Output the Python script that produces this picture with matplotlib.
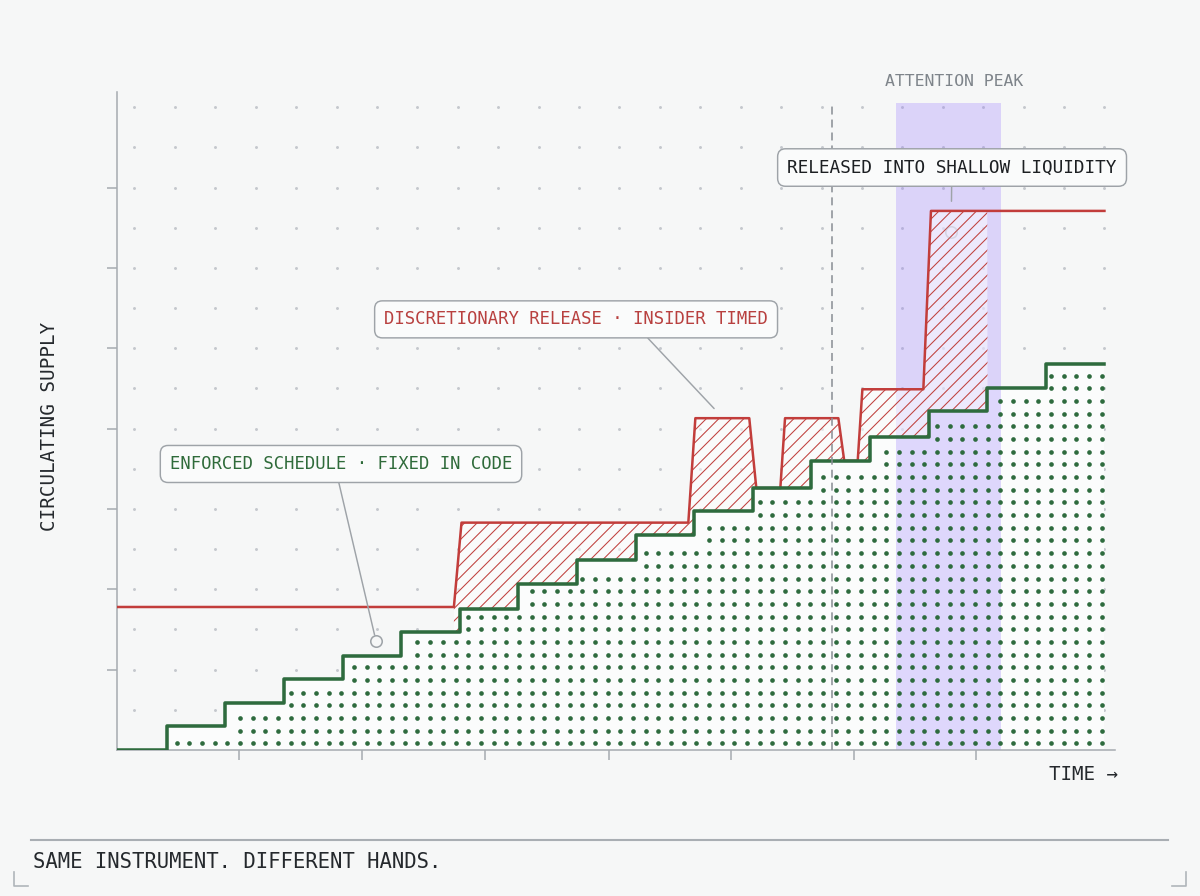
import numpy as np
import matplotlib.pyplot as plt
from matplotlib.lines import Line2D

plt.rcParams['font.family'] = ['DejaVu Sans Mono', 'DejaVu Sans']
plt.rcParams['hatch.linewidth'] = 0.5

# enforced schedule: one unlock per period (step, held until next period)
green_t = np.arange(0, 18)
green_v = [0, 3.0, 5.8, 8.8, 11.7, 14.7, 17.6, 20.6, 23.6, 26.7, 29.7,
           32.6, 36.0, 39.0, 42.2, 45.0, 48.0, 48.0]

# discretionary supply, released by hand
red_t = [0, 5.90, 6.03, 9.90, 10.02, 10.94, 11.06, 11.47, 11.55, 12.46,
         12.56, 12.79, 12.87, 13.91, 14.04, 17.0]
red_v = [17.8, 17.8, 28.3, 28.3, 41.3, 41.3, 32.6, 32.6, 41.3, 41.3,
         36.0, 36.0, 44.9, 44.9, 67.1, 67.1]

discretionary_span = (5.90, 15.0)
attention_span = (13.45, 15.24)
reveal_t = 12.35

x_ticks = [2.24, 4.34, 6.43, 8.55, 10.63, 12.73, 14.81]
y_ticks = [10, 20, 30, 40, 50, 60, 70]

BG = '#f6f7f7'
RED = '#c23d3b'
GREEN = '#2e6b3e'
GRAY = '#a7acb1'
INK = '#25292d'


def green_at(x):
    """Level of the enforced schedule at time x (step, post)."""
    idx = np.searchsorted(green_t, x, side='right') - 1
    return np.asarray(green_v)[np.clip(idx, 0, len(green_v) - 1)]


fig = plt.figure(figsize=(8, 896 / 150), dpi=150, facecolor=BG)
ax = fig.add_axes([117 / 1200, 1 - 750 / 896, 998 / 1200, 658 / 896])
ax.set_facecolor(BG)
ax.set_xlim(0.152, 17.18)
ax.set_ylim(0, 81.9)

# background dot grid
bx, by = np.meshgrid(np.linspace(0.45, 17.0, 25), np.arange(5, 81, 5))
ax.scatter(bx.ravel(), by.ravel(), s=2.0, color='#c4c8cd', linewidths=0, zorder=1)

# enforced area: opaque light face plus dot texture
ax.fill_between(green_t, 0, green_v, step='post', facecolor='#fbfcfc',
                linewidth=0, zorder=1.5)
dx, dy = 12.67 / 58.6, 12.67 / 8.03
gx, gy = np.meshgrid(np.arange(1.171 - 5 * dx, 17.0, dx), np.arange(0.834, 50, dy))
gx, gy = gx.ravel(), gy.ravel()
keep = ((gy < np.minimum(green_at(gx - 0.07), green_at(gx)) - 0.7)
        & (gx < 16.99) & (gx > 0.16))
ax.scatter(gx[keep], gy[keep], s=5.0, color=GREEN, linewidths=0, zorder=3)

# attention window
ax.fill_between(attention_span, 0, 80.5, color='#9678ff', alpha=0.28,
                linewidth=0, zorder=2)

# discretionary excess, hatched
tt = np.union1d(np.linspace(0, 17, 3401), np.array(red_t))
tt = np.union1d(tt, green_t[1:] - 1e-6)
r_i = np.interp(tt, red_t, red_v)
g_i = green_at(tt)
mask = ((tt >= discretionary_span[0]) & (tt <= discretionary_span[1])
        & (r_i > g_i + 0.05))
ax.fill_between(tt, g_i, r_i, where=mask, interpolate=True,
                facecolor=(1, 1, 1, 0.5), edgecolor='#c0413e',
                linewidth=0, hatch='////', zorder=2.5)

ax.plot(red_t, red_v, color=RED, lw=1.2, zorder=4)
ax.step(green_t, green_v, where='post', color=GREEN, lw=1.7, zorder=4.5)

ax.plot([reveal_t, reveal_t], [0, 80.5], color='#8a8f95', lw=0.75,
        dashes=(5.1, 3.2), zorder=5)

for s in ['top', 'right']:
    ax.spines[s].set_visible(False)
for s in ['left', 'bottom']:
    ax.spines[s].set_color(GRAY)
    ax.spines[s].set_linewidth(0.75)
ax.set_xticks(x_ticks)
ax.set_yticks(y_ticks)
ax.tick_params(length=4.8, width=0.75, color=GRAY,
               labelbottom=False, labelleft=False)

box = dict(boxstyle='round,pad=0.55,rounding_size=0.45', fc='#fafbfb',
           ec='#9ea3a8', lw=0.7)

ax.annotate('ENFORCED SCHEDULE · FIXED IN CODE', xy=(4.57, 13.6),
            xytext=(3.974, 35.6), ha='center', va='center', fontsize=8.3,
            color='#2f6b3a', bbox=box, zorder=6,
            arrowprops=dict(arrowstyle='-', color='#9ea3a8', lw=0.7,
                            shrinkA=0, shrinkB=2.8, relpos=(0.487, 0)))
ax.plot(4.57, 13.6, 'o', ms=5.5, mfc='none', mec='#9ea3a8', mew=0.75, zorder=6)

ax.annotate('DISCRETIONARY RELEASE · INSIDER TIMED', xy=(10.34, 42.5),
            xytext=(7.985, 53.6), ha='center', va='center', fontsize=8.3,
            color='#b8403f', bbox=box, zorder=6,
            arrowprops=dict(arrowstyle='-', color='#9ea3a8', lw=0.7,
                            shrinkA=0, shrinkB=0, relpos=(0.663, 0)))

ax.annotate('RELEASED INTO SHALLOW LIQUIDITY', xy=(14.39, 68.3),
            xytext=(14.40, 72.5), ha='center', va='center', fontsize=8.5,
            color='#1c1f22', bbox=box, zorder=6,
            arrowprops=dict(arrowstyle='-', color='#9ea3a8', lw=0.7,
                            shrinkA=0, shrinkB=0, relpos=(0.499, 0)))
ax.plot(14.39, 64.5, 'o', ms=5.5, mfc='none', mec='#9ea3a8', mew=0.75,
        alpha=0.3, zorder=6)

ax.text(14.43, 83.2, 'ATTENTION PEAK', ha='center', va='center',
        fontsize=7.9, color='#7e848a')

fig.text(49.5 / 1200, 1 - 426 / 896, 'CIRCULATING SUPPLY', rotation=90,
         ha='center', va='center', fontsize=9.25, color=INK)
fig.text(1118 / 1200, 1 - 775 / 896, 'TIME →', ha='right', va='center',
         fontsize=9.2, color=INK)

fig.add_artist(Line2D([31 / 1200, 1168 / 1200], [1 - 840 / 896] * 2,
                      color='#a9aeb3', lw=1.0))
fig.text(33 / 1200, 1 - 862 / 896, 'SAME INSTRUMENT. DIFFERENT HANDS.',
         ha='left', va='center', fontsize=9.9, color=INK)

# corner marks
fig.add_artist(Line2D(np.array([14, 14, 28]) / 1200,
                      1 - np.array([872, 886, 886]) / 896, color='#b0b5ba', lw=0.8))
fig.add_artist(Line2D(np.array([1172, 1186, 1186]) / 1200,
                      1 - np.array([886, 886, 872]) / 896, color='#b0b5ba', lw=0.8))

fig.savefig('out.png', dpi=150, facecolor=BG)
